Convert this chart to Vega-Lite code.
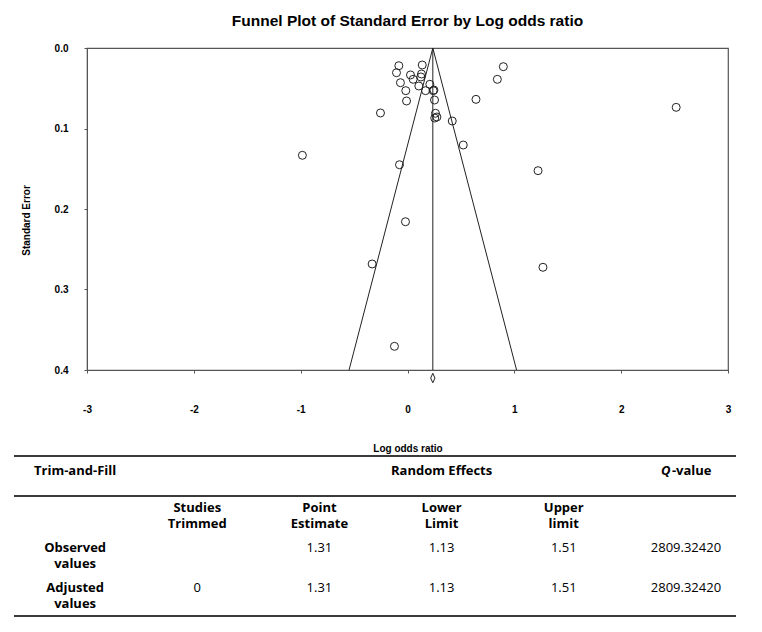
{
  "$schema": "https://vega.github.io/schema/vega-lite/v6.json",
  "padding": {"left": 13, "top": 12, "right": 5, "bottom": 5},
  "config": {"font": "Liberation Sans", "view": {"stroke": null}},
  "datasets": {
    "studies": [
      {"x": 2.515, "se": 0.0737}, {"x": 1.222, "se": 0.1524}, {"x": -0.984, "se": 0.1333},
      {"x": -0.253, "se": 0.0807}, {"x": -0.075, "se": 0.145}, {"x": -0.009, "se": 0.0658},
      {"x": 0.897, "se": 0.0232}, {"x": 0.841, "se": 0.0389}, {"x": 0.641, "se": 0.0638},
      {"x": 0.419, "se": 0.0907}, {"x": 0.522, "se": 0.1205}, {"x": -0.019, "se": 0.2158},
      {"x": -0.331, "se": 0.2683}, {"x": -0.122, "se": 0.3706}, {"x": 1.268, "se": 0.2724},
      {"x": -0.081, "se": 0.022}, {"x": -0.103, "se": 0.0307}, {"x": 0.138, "se": 0.0211},
      {"x": 0.028, "se": 0.0335}, {"x": 0.053, "se": 0.0389}, {"x": 0.131, "se": 0.0323},
      {"x": 0.125, "se": 0.036}, {"x": -0.066, "se": 0.0431}, {"x": -0.016, "se": 0.053},
      {"x": 0.106, "se": 0.0472}, {"x": 0.169, "se": 0.053}, {"x": 0.209, "se": 0.0451},
      {"x": 0.247, "se": 0.0522}, {"x": 0.24, "se": 0.053}, {"x": 0.253, "se": 0.0646},
      {"x": 0.262, "se": 0.0811}, {"x": 0.255, "se": 0.087}, {"x": 0.275, "se": 0.0857}
    ],
    "funnel": [
      {"x": -0.547, "se": 0.4, "o": 0},
      {"x": 0.237, "se": 0.0, "o": 1},
      {"x": 1.021, "se": 0.4, "o": 2}
    ],
    "summary": [{"x": 0.237, "se0": 0, "se1": 0.4, "seD": 0.41}],
    "rules": [{"r": "top", "from": "L", "to": "R"}, {"r": "mid", "from": "L", "to": "R"}, {"r": "bot", "from": "L", "to": "R"}],
    "table": [
      {"row": "hdr", "col": "Trim-and-Fill", "text": "Trim-and-Fill", "type": "head"},
      {"row": "hdr", "col": "Lower Limit", "text": "Random Effects", "type": "head"},
      {"row": "hdr", "col": "Q-value", "text": "Q", "type": "qi"},
      {"row": "hdr", "col": "Q-value", "text": "-value", "type": "qv"},
      {"row": "sub", "col": "Studies Trimmed", "text": "Studies\nTrimmed", "type": "label"},
      {"row": "sub", "col": "Point Estimate", "text": "Point\nEstimate", "type": "label"},
      {"row": "sub", "col": "Lower Limit", "text": "Lower\nLimit", "type": "label"},
      {"row": "sub", "col": "Upper limit", "text": "Upper\nlimit", "type": "label"},
      {"row": "obs", "col": "Trim-and-Fill", "text": "Observed\nvalues", "type": "label"},
      {"row": "adj", "col": "Trim-and-Fill", "text": "Adjusted\nvalues", "type": "label"},
      {"row": "obs", "col": "Point Estimate", "text": "1.31", "type": "value"},
      {"row": "obs", "col": "Lower Limit", "text": "1.13", "type": "value"},
      {"row": "obs", "col": "Upper limit", "text": "1.51", "type": "value"},
      {"row": "obs", "col": "Q-value", "text": "2809.32420", "type": "value"},
      {"row": "adj", "col": "Studies Trimmed", "text": "0", "type": "value"},
      {"row": "adj", "col": "Point Estimate", "text": "1.31", "type": "value"},
      {"row": "adj", "col": "Lower Limit", "text": "1.13", "type": "value"},
      {"row": "adj", "col": "Upper limit", "text": "1.51", "type": "value"},
      {"row": "adj", "col": "Q-value", "text": "2809.32420", "type": "value"}
    ]
  },
  "spacing": 1,
  "resolve": {"scale": {"x": "independent", "y": "independent"}},
  "vconcat": [
    {
      "width": 641,
      "height": 322,
      "title": {"text": "Funnel Plot of Standard Error by Log odds ratio", "font": "Liberation Sans", "fontSize": 15.5, "fontWeight": "bold", "color": "#000", "offset": 14, "anchor": "middle"},
      "view": {"stroke": "#555", "strokeWidth": 1.2},
      "layer": [
        {
          "data": {"name": "funnel"},
          "mark": {"type": "line", "color": "#222", "strokeWidth": 1},
          "encoding": {
            "x": {"field": "x", "type": "quantitative", "scale": {"domain": [-3, 3], "nice": false, "zero": false},
              "axis": {"values": [-3, -2, -1, 0, 1, 2, 3], "labelExpr": "'' + datum.value", "title": "Log odds ratio", "grid": false,
                "domainColor": "#555", "tickColor": "#555", "tickSize": 3, "labelPadding": 31, "labelFlush": false,
                "labelFont": "Liberation Sans", "labelFontWeight": "bold", "labelFontSize": 10, "labelColor": "#000",
                "titleFont": "Liberation Sans", "titleFontWeight": "bold", "titleFontSize": 10, "titleColor": "#000", "titlePadding": 29}},
            "y": {"field": "se", "type": "quantitative", "scale": {"domain": [0, 0.4], "nice": false, "reverse": true},
              "axis": {"values": [0, 0.1, 0.2, 0.3, 0.4], "format": ".1f", "title": "Standard Error", "grid": false,
                "domainColor": "#555", "tickColor": "#555", "tickSize": 3, "labelPadding": 16, "labelFlush": false,
                "labelFont": "Liberation Sans", "labelFontWeight": "bold", "labelFontSize": 10, "labelColor": "#000",
                "titleFont": "Liberation Sans", "titleFontWeight": "bold", "titleFontSize": 10, "titleColor": "#000", "titlePadding": 23, "titleY": 172}},
            "order": {"field": "o", "type": "quantitative"}
          }
        },
        {
          "data": {"name": "summary"},
          "mark": {"type": "rule", "color": "#222", "strokeWidth": 1},
          "encoding": {
            "x": {"field": "x", "type": "quantitative"},
            "y": {"field": "se0", "type": "quantitative"},
            "y2": {"field": "se1"}
          }
        },
        {
          "data": {"name": "summary"},
          "mark": {"type": "point", "shape": "M0,-1L0.45,0L0,1L-0.45,0Z", "size": 90, "filled": false, "color": "#222", "strokeWidth": 1, "opacity": 1, "clip": false},
          "encoding": {
            "x": {"field": "x", "type": "quantitative"},
            "y": {"field": "seD", "type": "quantitative"}
          }
        },
        {
          "data": {"name": "studies"},
          "mark": {"type": "point", "shape": "circle", "size": 64, "filled": false, "color": "#222", "strokeWidth": 1, "opacity": 1},
          "encoding": {
            "x": {"field": "x", "type": "quantitative"},
            "y": {"field": "se", "type": "quantitative"}
          }
        }
      ]
    },
    {
      "width": 660,
      "height": 160,
      "view": {"stroke": null},
      "resolve": {"scale": {"x": "independent"}},
      "layer": [
        {
          "data": {"name": "rules"},
          "mark": {"type": "rule", "color": "#3a3a3a", "strokeWidth": 2},
          "encoding": {
            "x": {"field": "from", "type": "nominal", "scale": {"type": "point", "domain": ["L", "R"], "range": [-73, 649], "padding": 0}, "axis": null},
            "x2": {"field": "to"},
            "y": {"field": "r", "type": "ordinal", "scale": {"type": "point", "domain": ["top", "hdr", "mid", "sub", "s1", "obs", "s2", "adj", "bot"], "padding": 0}, "axis": null}
          }
        },
        {
          "data": {"name": "table"},
          "layer": [
            {
              "transform": [{"filter": "datum.type == 'head'"}],
              "mark": {"type": "text", "font": "Open Sans", "fontSize": 13, "fontWeight": "bold", "color": "#000", "baseline": "middle", "dy": -5},
              "encoding": {
                "x": {"field": "col", "type": "nominal", "scale": {"type": "point", "domain": ["Trim-and-Fill", "Studies Trimmed", "Point Estimate", "Lower Limit", "Upper limit", "Q-value"], "range": [-73, 660], "padding": 0.5}, "axis": null},
                "y": {"field": "row", "type": "ordinal", "axis": null},
                "text": {"field": "text"}
              }
            },
            {
              "transform": [{"filter": "datum.type == 'qi'"}],
              "mark": {"type": "text", "font": "Open Sans", "fontSize": 13, "fontWeight": "bold", "fontStyle": "italic", "color": "#000", "baseline": "middle", "align": "left", "dx": -25, "dy": -5},
              "encoding": {
                "x": {"field": "col", "type": "nominal", "axis": null},
                "y": {"field": "row", "type": "ordinal", "axis": null},
                "text": {"field": "text"}
              }
            },
            {
              "transform": [{"filter": "datum.type == 'qv'"}],
              "mark": {"type": "text", "font": "Open Sans", "fontSize": 13, "fontWeight": "bold", "color": "#000", "baseline": "middle", "align": "left", "dx": -14, "dy": -5},
              "encoding": {
                "x": {"field": "col", "type": "nominal", "axis": null},
                "y": {"field": "row", "type": "ordinal", "axis": null},
                "text": {"field": "text"}
              }
            },
            {
              "transform": [{"filter": "datum.type == 'label'"}],
              "mark": {"type": "text", "font": "Open Sans", "fontSize": 13, "fontWeight": "bold", "color": "#000", "baseline": "middle", "lineBreak": "\n", "lineHeight": 16, "dy": -8},
              "encoding": {
                "x": {"field": "col", "type": "nominal", "axis": null},
                "y": {"field": "row", "type": "ordinal", "axis": null},
                "text": {"field": "text"}
              }
            },
            {
              "transform": [{"filter": "datum.type == 'value'"}],
              "mark": {"type": "text", "font": "Open Sans", "fontSize": 13, "color": "#000", "baseline": "middle", "dy": -8},
              "encoding": {
                "x": {"field": "col", "type": "nominal", "axis": null},
                "y": {"field": "row", "type": "ordinal", "axis": null},
                "text": {"field": "text"}
              }
            }
          ]
        }
      ]
    }
  ]
}
